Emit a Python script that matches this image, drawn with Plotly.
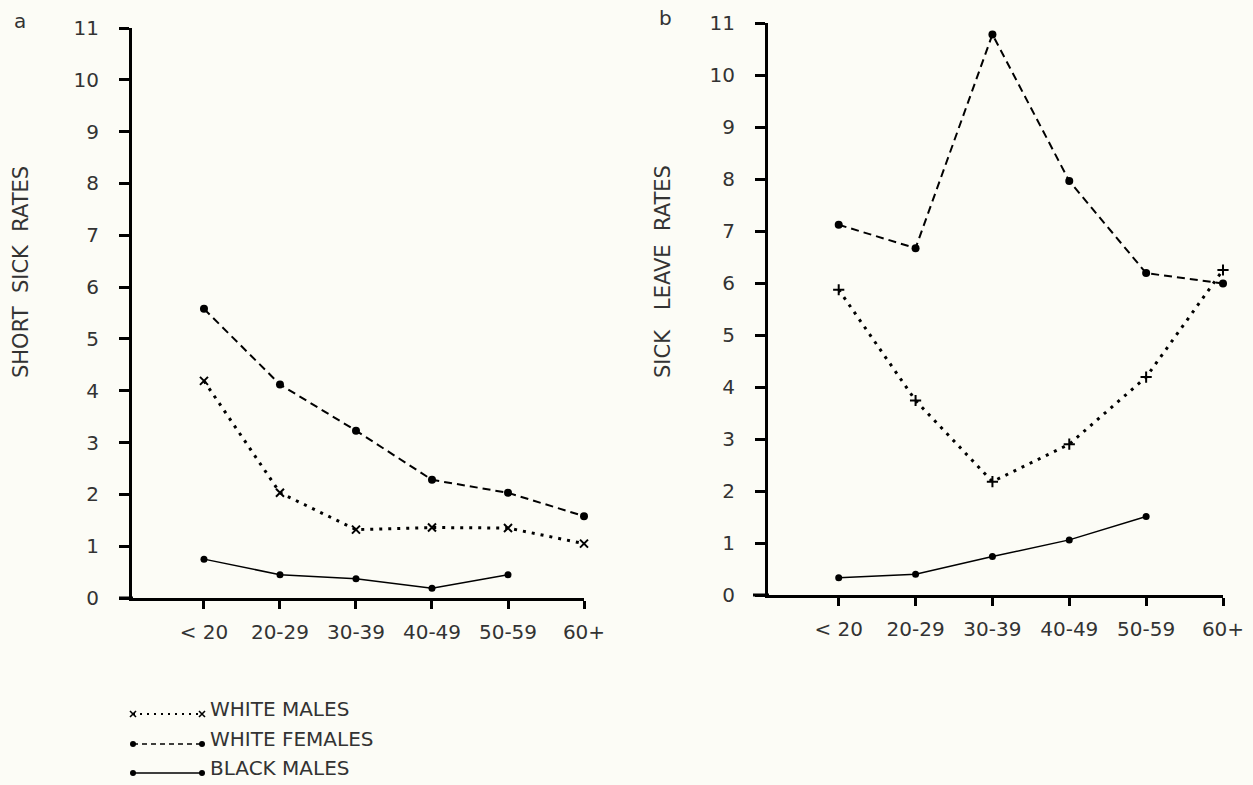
import plotly.graph_objects as go

W, H = 1253, 785

# ---- data ----
age_groups = ["< 20", "20-29", "30-39", "40-49", "50-59", "60+"]
xpos = [0, 1, 2, 3, 4, 5]

# panel a: short sick rates
a_white_males = [4.19, 2.03, 1.32, 1.36, 1.35, 1.05]
a_white_females = [5.58, 4.12, 3.23, 2.28, 2.03, 1.58]
a_black_males = [0.75, 0.45, 0.37, 0.19, 0.45]

# panel b: sick leave rates
b_white_males = [5.87, 3.74, 2.18, 2.90, 4.19, 6.25]
b_white_females = [7.12, 6.67, 10.78, 7.96, 6.19, 5.99]
b_black_males = [0.33, 0.40, 0.74, 1.06, 1.51]

y_ticks = list(range(0, 12))
legend_labels = ["WHITE MALES", "WHITE FEMALES", "BLACK MALES"]

FONT = "DejaVu Sans"
TXT = "#333333"
BG = "#fcfcf6"

def px(x):
    return x / W

def py(y):
    return 1 - y / H

wm_line = dict(color="black", width=3, dash="3px,6px")
wf_line = dict(color="black", width=2, dash="8px,5px")
bm_line = dict(color="black", width=1.5)

fig = go.Figure()

def add_panel(xa, ya, wm, wf, bm, wm_symbol):
    fig.add_trace(go.Scatter(x=xpos[:len(wm)], y=wm, mode="lines+markers", line=wm_line,
                             marker=dict(symbol=wm_symbol, size=8, color="black",
                                         line=dict(color="black", width=2)),
                             xaxis=xa, yaxis=ya, cliponaxis=False, showlegend=False))
    fig.add_trace(go.Scatter(x=xpos[:len(wf)], y=wf, mode="lines+markers", line=wf_line,
                             marker=dict(symbol="circle", size=8, color="black"),
                             xaxis=xa, yaxis=ya, cliponaxis=False, showlegend=False))
    fig.add_trace(go.Scatter(x=xpos[:len(bm)], y=bm, mode="lines+markers", line=bm_line,
                             marker=dict(symbol="circle", size=7, color="black"),
                             xaxis=xa, yaxis=ya, cliponaxis=False, showlegend=False))

add_panel("x", "y", a_white_males, a_white_females, a_black_males, "x-thin")
add_panel("x2", "y2", b_white_males, b_white_females, b_black_males, "cross-thin")

# legend samples (hidden axis 3, y in pixel rows)
legend_rows = [714, 744, 773]
leg_styles = [
    (dict(color="black", width=2, dash="2px,5px"),
     dict(symbol="x-thin", size=6, color="black", line=dict(color="black", width=1.6))),
    (dict(color="black", width=1.5, dash="5px,4px"), dict(symbol="circle", size=6, color="black")),
    (dict(color="black", width=1.5), dict(symbol="circle", size=6, color="black")),
]
for row, (ln, mk) in zip(legend_rows, leg_styles):
    fig.add_trace(go.Scatter(x=[0, 1], y=[row, row], mode="lines+markers",
                             line=ln, marker=mk,
                             xaxis="x3", yaxis="y3", cliponaxis=False, showlegend=False))

axis_common = dict(showline=True, linewidth=3, linecolor="black", ticks="outside",
                   tickwidth=2.5, tickcolor="black", showgrid=False, zeroline=False,
                   automargin=False, tickfont=dict(family=FONT, size=20, color=TXT))

fig.update_layout(
    width=W, height=H, autosize=False, margin=dict(l=0, r=0, t=0, b=0, pad=0),
    paper_bgcolor=BG, plot_bgcolor=BG, showlegend=False,
    xaxis=dict(axis_common, domain=[px(132), px(584)], range=[-0.947, 5], anchor="y",
               tickvals=xpos, ticktext=age_groups, ticklen=8, ticklabelstandoff=6),
    yaxis=dict(axis_common, domain=[py(598), py(28)], range=[0, 11], anchor="x",
               tickvals=y_ticks, ticklen=10, ticklabelstandoff=16),
    xaxis2=dict(axis_common, domain=[px(768), px(1223)], range=[-0.92, 5], anchor="y2",
                tickvals=xpos, ticktext=age_groups, ticklen=8, ticklabelstandoff=6),
    yaxis2=dict(axis_common, domain=[py(595), py(23)], range=[0, 11], anchor="x2",
                tickvals=y_ticks, ticklen=10, ticklabelstandoff=16),
    xaxis3=dict(domain=[px(133), px(202)], range=[0, 1], visible=False, anchor="y3",
                automargin=False),
    yaxis3=dict(domain=[py(785), py(690)], range=[785, 690], visible=False, anchor="x3",
                automargin=False),
)

# x-axis line extending a little to the left of the y-axis
fig.add_shape(type="line", xref="paper", yref="paper", x0=px(119), x1=px(133),
              y0=py(598), y1=py(598), line=dict(color="black", width=3))
fig.add_shape(type="line", xref="paper", yref="paper", x0=px(753), x1=px(769),
              y0=py(595), y1=py(595), line=dict(color="black", width=3))

nb = "\u00a0"
annos = [
    dict(text=f"SHORT{nb*2}SICK{nb*2}RATES", x=px(21), y=py(272), textangle=-90, size=21),
    dict(text=f"SICK{nb*3}LEAVE{nb*2}RATES", x=px(663), y=py(272), textangle=-90, size=21),
    dict(text="a", x=px(20), y=py(21), textangle=0, size=20),
    dict(text="b", x=px(666), y=py(18), textangle=0, size=20),
]
for a in annos:
    fig.add_annotation(text=a["text"], x=a["x"], y=a["y"], xref="paper", yref="paper",
                       textangle=a["textangle"], showarrow=False, xanchor="center", yanchor="middle",
                       font=dict(family=FONT, size=a["size"], color=TXT))

for row, lab in zip(legend_rows, legend_labels):
    fig.add_annotation(text=lab, x=px(208), y=py(row - 5), xref="paper", yref="paper",
                       showarrow=False, xanchor="left", yanchor="middle",
                       font=dict(family=FONT, size=20, color=TXT))

fig.write_html("out.html", config={"responsive": False, "displayModeBar": False},
               post_script="document.body.style.margin='0';document.body.style.overflow='hidden';")
